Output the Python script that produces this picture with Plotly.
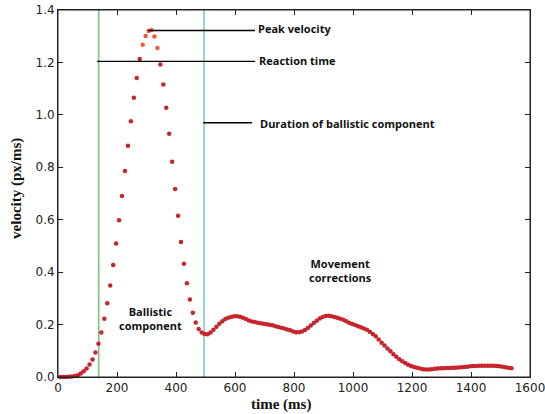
import plotly.graph_objects as go

# sampling grid (ms)
times = list(range(7, 1540, 10))

velocity = [
    0.000, 0.000, 0.000, 0.001, 0.002, 0.004, 0.007, 0.013, 0.022, 0.032,
    0.048, 0.067, 0.093, 0.127, 0.170, 0.222, 0.281, 0.349, 0.427, 0.509,
    0.598, 0.690, 0.786, 0.882, 0.976, 1.065, 1.141, 1.213, 1.267, 1.301,
    1.320, 1.324, 1.299, 1.255, 1.192, 1.116, 1.027, 0.928, 0.821, 0.717,
    0.615, 0.515, 0.432, 0.358, 0.296, 0.245, 0.208, 0.183, 0.170, 0.164,
    0.163, 0.170, 0.180, 0.192, 0.203, 0.213, 0.221, 0.226, 0.229, 0.232,
    0.232, 0.230, 0.226, 0.221, 0.216, 0.212, 0.210, 0.207, 0.205, 0.203,
    0.201, 0.199, 0.197, 0.194, 0.191, 0.188, 0.185, 0.181, 0.178, 0.174,
    0.171, 0.171, 0.174, 0.179, 0.187, 0.196, 0.206, 0.215, 0.223, 0.229,
    0.233, 0.234, 0.232, 0.229, 0.226, 0.222, 0.218, 0.213, 0.207, 0.202,
    0.198, 0.194, 0.190, 0.185, 0.180, 0.173, 0.164, 0.155, 0.143, 0.131,
    0.120, 0.109, 0.098, 0.087, 0.077, 0.068, 0.060, 0.053, 0.047, 0.042,
    0.038, 0.035, 0.032, 0.030, 0.029, 0.029, 0.030, 0.031, 0.032, 0.033,
    0.033, 0.034, 0.034, 0.035, 0.035, 0.036, 0.037, 0.038, 0.039, 0.041,
    0.042, 0.042, 0.043, 0.043, 0.043, 0.043, 0.043, 0.043, 0.042, 0.041,
    0.039, 0.037, 0.035, 0.033,
]

reaction_time = 138      # ms
ballistic_end = 495      # ms
peak_velocity = max(velocity)
reaction_level = 1.204
duration_level = 0.97

x_ticks = [0, 200, 400, 600, 800, 1000, 1200, 1400, 1600]
y_ticks = [0.0, 0.2, 0.4, 0.6, 0.8, 1.0, 1.2, 1.4]

colors = ["#ee5a3c" if v > 1.24 else "#c8242c" for v in velocity]

fig = go.Figure()
fig.add_trace(go.Scatter(
    x=times, y=velocity, mode="markers",
    marker=dict(size=4.5, color=colors, line=dict(width=0)),
    showlegend=False, hoverinfo="skip", cliponaxis=False,
))

# vertical markers
fig.add_shape(type="line", x0=reaction_time, x1=reaction_time, y0=0, y1=1.4,
              line=dict(color="#7fbf86", width=1.6), layer="below")
fig.add_shape(type="line", x0=ballistic_end, x1=ballistic_end, y0=0, y1=1.4,
              line=dict(color="#66c8c4", width=1.4), layer="below")

# annotation lines
fig.add_shape(type="line", x0=305, x1=668, y0=peak_velocity - 0.002, y1=peak_velocity - 0.002,
              line=dict(color="black", width=1.4))
fig.add_shape(type="line", x0=132, x1=668, y0=reaction_level, y1=reaction_level,
              line=dict(color="black", width=1.4))
fig.add_shape(type="line", x0=492, x1=658, y0=duration_level, y1=duration_level,
              line=dict(color="black", width=1.4))

# frame
fig.add_shape(type="rect", xref="paper", yref="paper", x0=0, x1=1, y0=0, y1=1,
              line=dict(color="#222", width=1), layer="above")

font_ann = dict(family="Open Sans, DejaVu Sans, sans-serif", size=11, color="#111")
fig.add_annotation(x=672, y=peak_velocity + 0.005, text="<b>Peak velocity</b>", showarrow=False,
                   xanchor="left", yanchor="middle", font=font_ann)
fig.add_annotation(x=675, y=reaction_level + 0.002, text="<b>Reaction time</b>", showarrow=False,
                   xanchor="left", yanchor="middle", font=font_ann)
fig.add_annotation(x=678, y=duration_level - 0.003, text="<b>Duration of ballistic component</b>",
                   showarrow=False, xanchor="left", yanchor="middle", font=font_ann)
fig.add_annotation(x=312, y=0.225, text="<b>Ballistic<br>component</b>", showarrow=False,
                   xanchor="center", yanchor="middle", font=font_ann, align="center")
fig.add_annotation(x=956, y=0.408, text="<b>Movement<br>corrections</b>", showarrow=False,
                   xanchor="center", yanchor="middle", font=font_ann, align="center")

# axis titles
title_font = dict(family="Liberation Serif, Times New Roman, serif", size=15, color="#111")
fig.add_annotation(xref="paper", yref="paper", x=-0.087, y=0.515, text="<b>velocity (px/ms)</b>",
                   textangle=-90, showarrow=False, xanchor="center", yanchor="middle", font=title_font)
fig.add_annotation(xref="paper", yref="paper", x=0.472, y=-0.074, text="<b>time (ms)</b>",
                   showarrow=False, xanchor="center", yanchor="middle", font=title_font)

axis_common = dict(
    showline=True, linecolor="#222", linewidth=1, mirror="ticks",
    ticks="inside", ticklen=5, tickcolor="#222",
    showgrid=False, zeroline=False, automargin=False, ticklabeloverflow="allow",
    tickfont=dict(family="DejaVu Sans, sans-serif", size=12, color="#222"),
)

fig.update_xaxes(range=[0, 1600], tickvals=x_ticks, ticktext=[str(t) for t in x_ticks],
                 ticklabelstandoff=0, **axis_common)
fig.update_yaxes(range=[0, 1.4], tickvals=y_ticks, ticktext=[f"{t:.1f}" for t in y_ticks],
                 **axis_common)

fig.update_layout(
    width=545, height=414,
    margin=dict(l=58, r=15, t=10, b=37, autoexpand=False),
    plot_bgcolor="white", paper_bgcolor="white",
)

fig.write_html(
    "out.html",
    config={"displayModeBar": False},
    post_script="document.body.style.margin='0';document.body.style.padding='0';"
                "document.body.style.overflow='hidden';",
)
